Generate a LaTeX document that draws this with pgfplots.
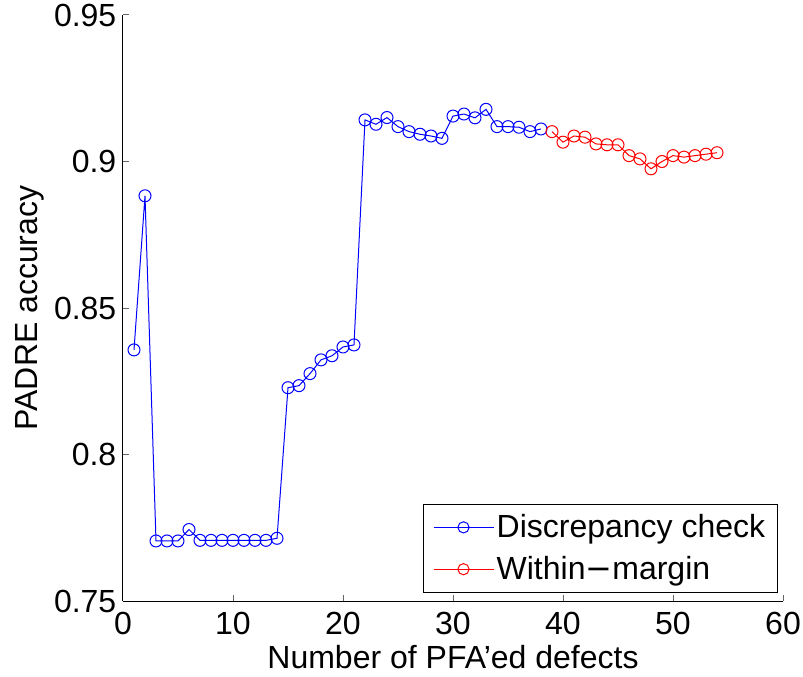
\documentclass[border=0pt]{standalone}
\usepackage{fontspec}
\setmainfont{Liberation Sans}
\usepackage{pgfplots}
\pgfplotsset{compat=1.18}
\begin{document}
\begin{tikzpicture}
\useasboundingbox (-92.25pt,-56.25pt) rectangle (510pt,450.75pt);
\begin{axis}[
  scale only axis, width=495pt, height=439.5pt,
  at={(0,0)}, anchor=south west,
  xmin=0, xmax=60, ymin=0.75, ymax=0.95,
  axis x line*=bottom, axis y line*=left,
  axis line style={line width=0.75pt},
  tick align=inside, major tick length=4.5pt,
  tick style={line width=0.75pt, black!60},
  xtick={0,10,...,60},
  ytick={0.75,0.8,0.85,0.9,0.95},
  yticklabels={0.75,0.8,0.85,0.9,0.95},
  /pgf/number format/assume math mode=true,
  tick label style={font=\fontsize{24}{28}\selectfont},
  label style={font=\fontsize{24}{28}\selectfont},
  xticklabel style={yshift=-5pt},
  yticklabel style={xshift=-1.5pt},
  xlabel={Number of PFA’ed defects},
  ylabel={PADRE accuracy},
  xlabel style={at={(axis description cs:0.5,-0.0956)}, anchor=center},
  ylabel style={at={(axis description cs:-0.1414,0.5)}, anchor=center},
  legend style={at={(rel axis cs:0.992,0.0137)}, anchor=south east,
    font=\fontsize{24}{28}\selectfont, draw=black, line width=0.75pt,
    inner xsep=7pt, inner ysep=6pt, row sep=8.5pt},
  legend cell align=left,
  legend image code/.code={
    \draw[#1, mark=none] (0pt,0pt) -- (45pt,0pt);
    \draw[#1, only marks, mark size=4.2pt] plot coordinates {(22.5pt,0pt)};
  },
]
\addplot[blue, line width=0.75pt, mark=o, mark size=4.5pt, mark options={line width=0.75pt}] coordinates {
(1,0.8357) (2,0.8883) (3,0.7705) (4,0.7705) (5,0.7705) (6,0.7744)
(7,0.7707) (8,0.7707) (9,0.7707) (10,0.7707) (11,0.7707) (12,0.7707) (13,0.7707) (14,0.7714)
(15,0.8228) (16,0.8235) (17,0.8276) (18,0.8323) (19,0.8337) (20,0.8367) (21,0.8374)
(22,0.9142) (23,0.9127) (24,0.9150) (25,0.9119) (26,0.9102) (27,0.9093) (28,0.9087) (29,0.9079)
(30,0.9155) (31,0.9162) (32,0.9149) (33,0.9178) (34,0.9119) (35,0.9119) (36,0.9117) (37,0.9102) (38,0.9111)
};
\addlegendentry{Discrepancy check}
\addplot[red, line width=0.75pt, mark=o, mark size=4.5pt, mark options={line width=0.75pt}] coordinates {
(39,0.9102) (40,0.9066) (41,0.9087) (42,0.9083) (43,0.9060) (44,0.9057) (45,0.9057) (46,0.9020)
(47,0.9009) (48,0.8975) (49,0.9000) (50,0.9020) (51,0.9015) (52,0.9020) (53,0.9025) (54,0.9030)
};
\addlegendentry{Within{\fontspec{DejaVu Sans}−}margin}
\end{axis}
\end{tikzpicture}
\end{document}
